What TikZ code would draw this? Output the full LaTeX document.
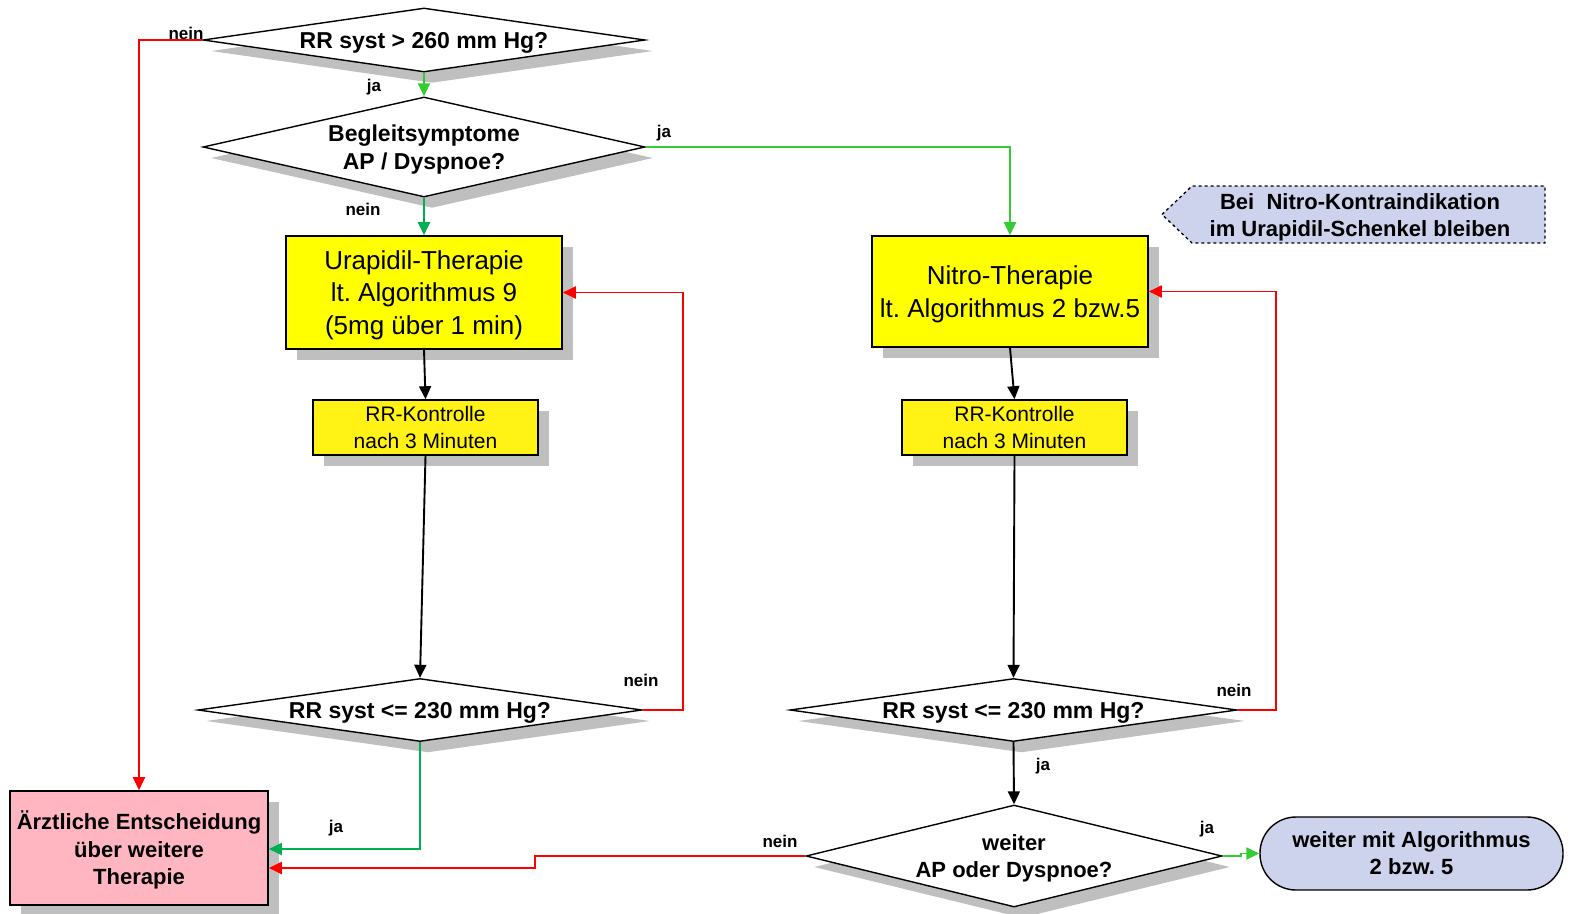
\documentclass[tikz,border=0pt]{standalone}
\usepackage{fontspec}
\setmainfont{Liberation Sans}
\usetikzlibrary{arrows.meta,shapes.geometric,shadows,calc}
\frenchspacing

\definecolor{shadowgrey}{RGB}{191,191,191}
\definecolor{boxyellow}{RGB}{255,255,0}
\definecolor{checkyellow}{RGB}{255,242,20}
\definecolor{decisionpink}{RGB}{255,182,193}
\definecolor{notelavender}{RGB}{205,211,236}
\definecolor{yesgreen}{RGB}{51,204,51}
\definecolor{yesgreendark}{RGB}{0,176,80}
\definecolor{nored}{RGB}{255,0,0}

\tikzset{
  fs/.style 2 args={font=\fontsize{#1}{#2}\selectfont},
  bfs/.style 2 args={font=\fontsize{#1}{#2}\selectfont\bfseries},
  boxshadow/.style={general shadow={fill=shadowgrey, shadow xshift=11pt, shadow yshift=-11pt}},
  diashadow/.style={general shadow={fill=shadowgrey, shadow xshift=8pt, shadow yshift=-11pt}},
  question/.style={shape=diamond, draw=black, line width=1.4pt, fill=white, inner sep=0pt,
    text depth=0pt, align=center, diashadow},
  therapy/.style={shape=rectangle, draw=black, line width=1.6pt, fill=boxyellow, inner sep=0pt,
    text depth=0pt, align=center, boxshadow, fs={26}{32.5}},
  checkbox/.style={shape=rectangle, draw=black, line width=1.6pt, fill=checkyellow, inner sep=0pt,
    text depth=0pt, align=center, boxshadow, fs={21}{27}},
  flow/.style={line width=1.9pt, -{Triangle[length=13pt,width=12pt]}},
  nolink/.style={flow, draw=nored},
  yeslink/.style={flow, draw=yesgreen},
  yeslinkdark/.style={flow, draw=yesgreendark},
  plainlink/.style={flow, draw=black},
  answer/.style={inner sep=0pt, bfs={17}{20}},
}

\begin{document}
\begin{tikzpicture}[x=1pt,y=-1pt]
\useasboundingbox (0,0) rectangle (1573,913);

% decisions
\node[question, bfs={23}{28}, aspect=6.9, minimum width=442pt, minimum height=64pt] (d1) at (424,40)
  {RR syst > 260 mm Hg?};
\node[question, bfs={23}{28}, aspect=4.4, minimum width=442pt, minimum height=100pt] (d2) at (424,147)
  {Begleitsymptome\\AP / Dyspnoe?};
\node[question, bfs={23}{28}, aspect=7.0, minimum width=444pt, minimum height=63pt] (d3) at (420,710)
  {RR syst <= 230 mm Hg?};
\node[question, bfs={23}{28}, aspect=7.0, minimum width=447pt, minimum height=63pt] (d4) at (1013.5,710)
  {RR syst <= 230 mm Hg?};
\node[question, bfs={22}{27}, aspect=4.1, minimum width=416pt, minimum height=102pt] (d5) at (1014,856)
  {weiter\\AP oder Dyspnoe?};

% therapy boxes
\node[therapy, minimum width=276pt, minimum height=113pt] (ura) at (424,292.5)
  {Urapidil-Therapie\\lt. Algorithmus 9\\(5mg über 1 min)};
\node[therapy, minimum width=276pt, minimum height=111pt] (nitro) at (1010,291.5)
  {Nitro-Therapie\\lt. Algorithmus 2 bzw.5};
\node[checkbox, minimum width=225pt, minimum height=55pt] (rrk1) at (425.5,427.5)
  {RR-Kontrolle\\nach 3 Minuten};
\node[checkbox, minimum width=225pt, minimum height=55pt] (rrk2) at (1014.5,427.5)
  {RR-Kontrolle\\nach 3 Minuten};

% outcomes
\node[shape=rectangle, draw=black, line width=1.6pt, fill=decisionpink, inner sep=0pt, align=center,
  text depth=0pt, boxshadow, bfs={22}{27.5}, minimum width=258pt, minimum height=114pt] (aerzt) at (139,848)
  {Ärztliche Entscheidung\\über weitere\\Therapie};
\node[shape=rectangle, rounded corners=36pt, draw=black, line width=1.4pt, fill=notelavender, inner sep=0pt,
  text depth=0pt, align=center, bfs={22}{27}, minimum width=303pt, minimum height=73pt] (term) at (1411.5,853.5)
  {weiter mit Algorithmus\\2 bzw. 5};

% hint
\draw[dashed, line width=1.3pt, fill=notelavender]
  (1162,214.5) -- (1192,186) -- (1545,186) -- (1545,243) -- (1192,243) -- cycle;
\node[inner sep=0pt, align=center, text depth=0pt, bfs={22}{27.5}] (hint) at (1360,215)
  {Bei\ \ Nitro-Kontraindikation\\im Urapidil-Schenkel bleiben};

% connectors
\draw[nolink] (d1.west) -| (aerzt.north);
\draw[yeslink] (d1.south) -- (d2.north);
\draw[yeslink] (d2.east) -| (nitro.north);
\draw[yeslinkdark] (d2.south) -- (ura.north);
\draw[plainlink] (ura.south) -- (rrk1.north);
\draw[plainlink] (rrk1.south) -- (d3.north);
\draw[nolink] (d3.east) -- ++(40,0) |- (ura.east);
\draw[yeslinkdark] (d3.south) |- ($(aerzt.east)+(0,1)$);
\draw[plainlink] (nitro.south) -- (rrk2.north);
\draw[plainlink] (rrk2.south) -- (d4.north);
\draw[nolink] (d4.east) -- ++(38,0) |- (nitro.east);
\draw[plainlink] (d4.south) -- (d5.north);
\coordinate (redstep) at (535,856);
\draw[nolink] (d5.west) -- (redstep) |- ($(aerzt.east)+(0,20)$);
\draw[yeslink] (d5.east) -- ++(18,0) |- (term.west);

% branch labels
\node[answer] (l1) at (186,33) {nein};
\node[answer] (l2) at (374,87) {ja};
\node[answer] (l3) at (664,133) {ja};
\node[answer] (l4) at (363,209) {nein};
\node[answer] (l5) at (641,680) {nein};
\node[answer] (l6) at (336,828) {ja};
\node[answer] (l7) at (1234,690) {nein};
\node[answer] (l8) at (1043,766) {ja};
\node[answer] (l9) at (780,841) {nein};
\node[answer] (l10) at (1207,829) {ja};
\end{tikzpicture}
\end{document}
